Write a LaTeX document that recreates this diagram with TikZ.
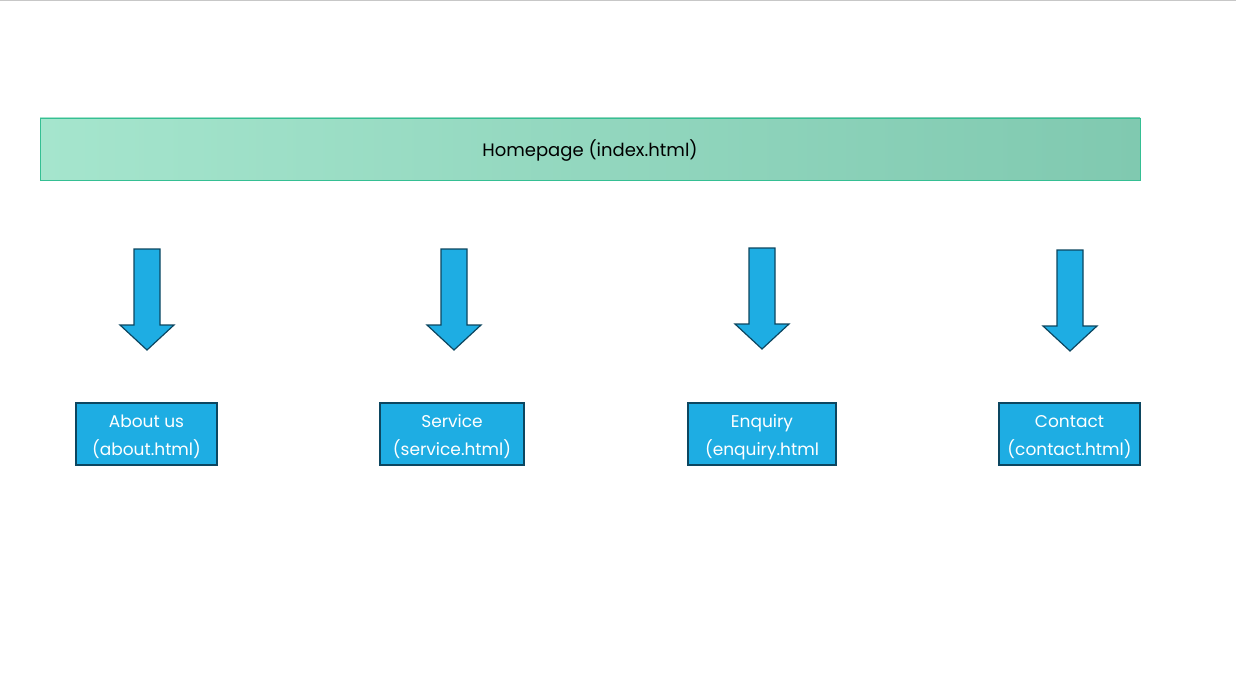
\documentclass[tikz,border=0pt]{standalone}
\usepackage{fontspec}
\setmainfont{Poppins}
\usetikzlibrary{positioning}

\definecolor{pageblue}{HTML}{1EADE3}
\definecolor{pageedge}{HTML}{0C4660}
\definecolor{mintleft}{HTML}{A5E5CD}
\definecolor{mintright}{HTML}{80C9B0}
\definecolor{mintedge}{HTML}{35BF93}

\tikzset{
  homebar/.style={draw=mintedge, line width=0.9pt, left color=mintleft, right color=mintright,
    minimum width=1100pt, minimum height=62pt, text height=20pt, text depth=4pt,
    font=\fontsize{18}{22}\selectfont},
  pagebox/.style={draw=pageedge, line width=1.4pt, fill=pageblue, text=white, align=center,
    minimum height=62pt, inner sep=0pt, text height=47pt, text depth=4pt,
    font=\fontsize{17}{28}\selectfont},
  downarrow/.style={draw=pageedge, line width=1.2pt, fill=pageblue, line join=miter}
}

\begin{document}
\begin{tikzpicture}[x=1pt, y=-1pt]
  \useasboundingbox (0,0) rectangle (1236,695);
  \draw[color=black!22, line width=1pt] (0,1) -- (1236,1);

  \node[homebar] (home) at (590,149) {Homepage (index.html)};

  \node[pagebox, minimum width=141pt] (about) at (146.5,434) {About us\\(about.html)};
  \node[pagebox, minimum width=144pt] (service) at (452,434) {Service\\(service.html)};
  \node[pagebox, minimum width=148pt] (enquiry) at (762,434) {Enquiry\\(enquiry.html};
  \node[pagebox, minimum width=141pt] (contact) at (1069.5,434) {Contact\\(contact.html)};

  \foreach \x/\top in {147/249, 454/249, 762/248, 1070/250}
    \draw[downarrow] (\x-13,\top) -- (\x+13,\top) -- (\x+13,\top+76) -- (\x+27,\top+76)
      -- (\x,\top+101) -- (\x-27,\top+76) -- (\x-13,\top+76) -- cycle;

\end{tikzpicture}
\end{document}
